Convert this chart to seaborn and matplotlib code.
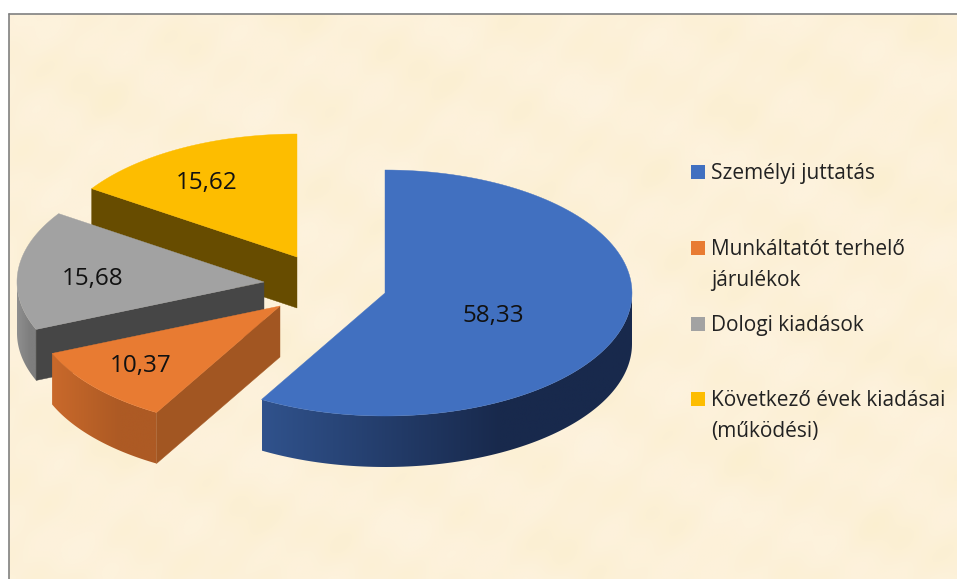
import numpy as np
import matplotlib
matplotlib.use("Agg")
import matplotlib.pyplot as plt
import seaborn as sns
from matplotlib.colors import LinearSegmentedColormap
from matplotlib.patches import Polygon, Rectangle

W, H = 957, 579

categories = ["Személyi juttatás", "Munkáltatót terhelő\njárulékok", "Dologi kiadások",
              "Következő évek kiadásai\n(működési)"]
values = [58.33, 10.37, 15.68, 15.62]
value_labels = ["58,33", "10,37", "15,68", "15,62"]

top_colors = ["#4170C0", "#E87B32", "#A2A2A2", "#FDBD00"]
cut_colors = ["#1E3358", "#A25622", "#464646", "#674C00"]
side_left = ["#30528C", "#C9692B", "#8F8F8F", "#8A6800"]
side_right = ["#18294C", "#AD5A24", "#7E7E7E", "#674C00"]

# layout, in pixels of the 957x579 picture
centers = [(385, 293), (280, 306), (264, 282), (297, 257)]
RX, RY, DEPTH = 247, 123, 51
label_xy = [(493, 316), (141, 366), (93, 279), (207, 183)]
legend_y = [172, 248, 324, 399]
FONT = "Open Sans"

sns.set_theme(style="white")
plt.rcParams["font.family"] = [FONT, "DejaVu Sans"]
palette = sns.color_palette(top_colors)

fig = plt.figure(figsize=(W / 100, H / 100), dpi=100)
ax = fig.add_axes([0, 0, 1, 1])

# mottled paper background
xx, yy = np.meshgrid(np.arange(0, W, 3), np.arange(0, H, 3))
tex = (np.sin(xx / 17 + yy / 41) * np.sin(yy / 23 + 0.7) + np.sin(xx / 31 - yy / 14 + 1.3)
       + np.sin(xx / 7.5 + yy / 9 + 0.4) * 0.5 + np.sin(xx / 53) * np.sin(yy / 29 + 2.1))
paper = LinearSegmentedColormap.from_list("paper", ["#FBEFD0", "#FDF1D9", "#FDF3DF"])
ax.imshow(tex, extent=[9, W, H, 14], cmap=paper, aspect="auto", zorder=0, interpolation="bicubic")
ax.plot([9, 9], [H, 14], color="#808080", lw=1.2, zorder=1)
ax.plot([9, W], [14, 14], color="#808080", lw=1.2, zorder=1)


def rim(cx, cy, a0, a1, n=120):
    # points on the projected circle, angle clockwise from 12 o'clock
    t = np.radians(np.linspace(a0, a1, n))
    return np.column_stack([cx + RX * np.sin(t), cy - RY * np.cos(t)])


def gradient_fill(verts, c0, c1, z):
    # side wall shaded left to right, clipped to its outline
    cmap = LinearSegmentedColormap.from_list("side", [c0, c1])
    patch = Polygon(verts, closed=True, fc="none", ec="none", zorder=z)
    ax.add_patch(patch)
    x0, x1 = verts[:, 0].min(), verts[:, 0].max()
    y0, y1 = verts[:, 1].min(), verts[:, 1].max()
    grad = np.clip(np.linspace(0, 1.55, 256), 0, 1)[None, :]
    im = ax.imshow(grad, extent=[x0, x1, y1, y0], cmap=cmap, aspect="auto", zorder=z)
    im.set_clip_path(patch)


starts = np.concatenate([[0], np.cumsum(values)[:-1]]) / sum(values) * 360
ends = np.cumsum(values) / sum(values) * 360

# draw back to front: yellow, gray, orange, blue
for i in [3, 2, 1, 0]:
    cx, cy = centers[i]
    a0, a1 = starts[i], ends[i]
    z = 10 + (3 - i) * 3
    arc = rim(cx, cy, a0, a1)

    # outer wall, only the part of the rim facing the viewer
    v0, v1 = max(a0, 90), min(a1, 270)
    if v1 > v0:
        r = rim(cx, cy, v0, v1)
        wall = np.vstack([r, r[::-1] + [0, DEPTH]])
        gradient_fill(wall, side_left[i], side_right[i], z)

    # cut face of the starting edge if it faces the viewer
    if np.sin(np.radians(a0)) < 0 or 90 < a0 < 270:
        p = rim(cx, cy, a0, a0, 1)[0]
        face = np.array([[cx, cy], p, p + [0, DEPTH], [cx, cy + DEPTH]])
        ax.add_patch(Polygon(face, closed=True, fc=cut_colors[i], ec=cut_colors[i], lw=0.3, zorder=z + 1))

    top = np.vstack([[cx, cy], arc])
    ax.add_patch(Polygon(top, closed=True, fc=palette[i], ec=palette[i], lw=0.3, zorder=z + 2))

for (x, y), s in zip(label_xy, value_labels):
    ax.text(x, y, s, ha="center", va="center", fontsize=17.5, color="#111111", zorder=30)

for i, (y, s) in enumerate(zip(legend_y, categories)):
    ax.add_patch(Rectangle((691, y - 7), 14, 14, fc=palette[i], ec="none", zorder=30))
    ax.text(711, y - 9, s, ha="left", va="top", fontsize=15, color="#222222", linespacing=1.6, zorder=30)

ax.set_xlim(0, W)
ax.set_ylim(H, 0)
ax.axis("off")
sns.despine(ax=ax, left=True, bottom=True)
fig.savefig("out.png", dpi=100, facecolor="white")
